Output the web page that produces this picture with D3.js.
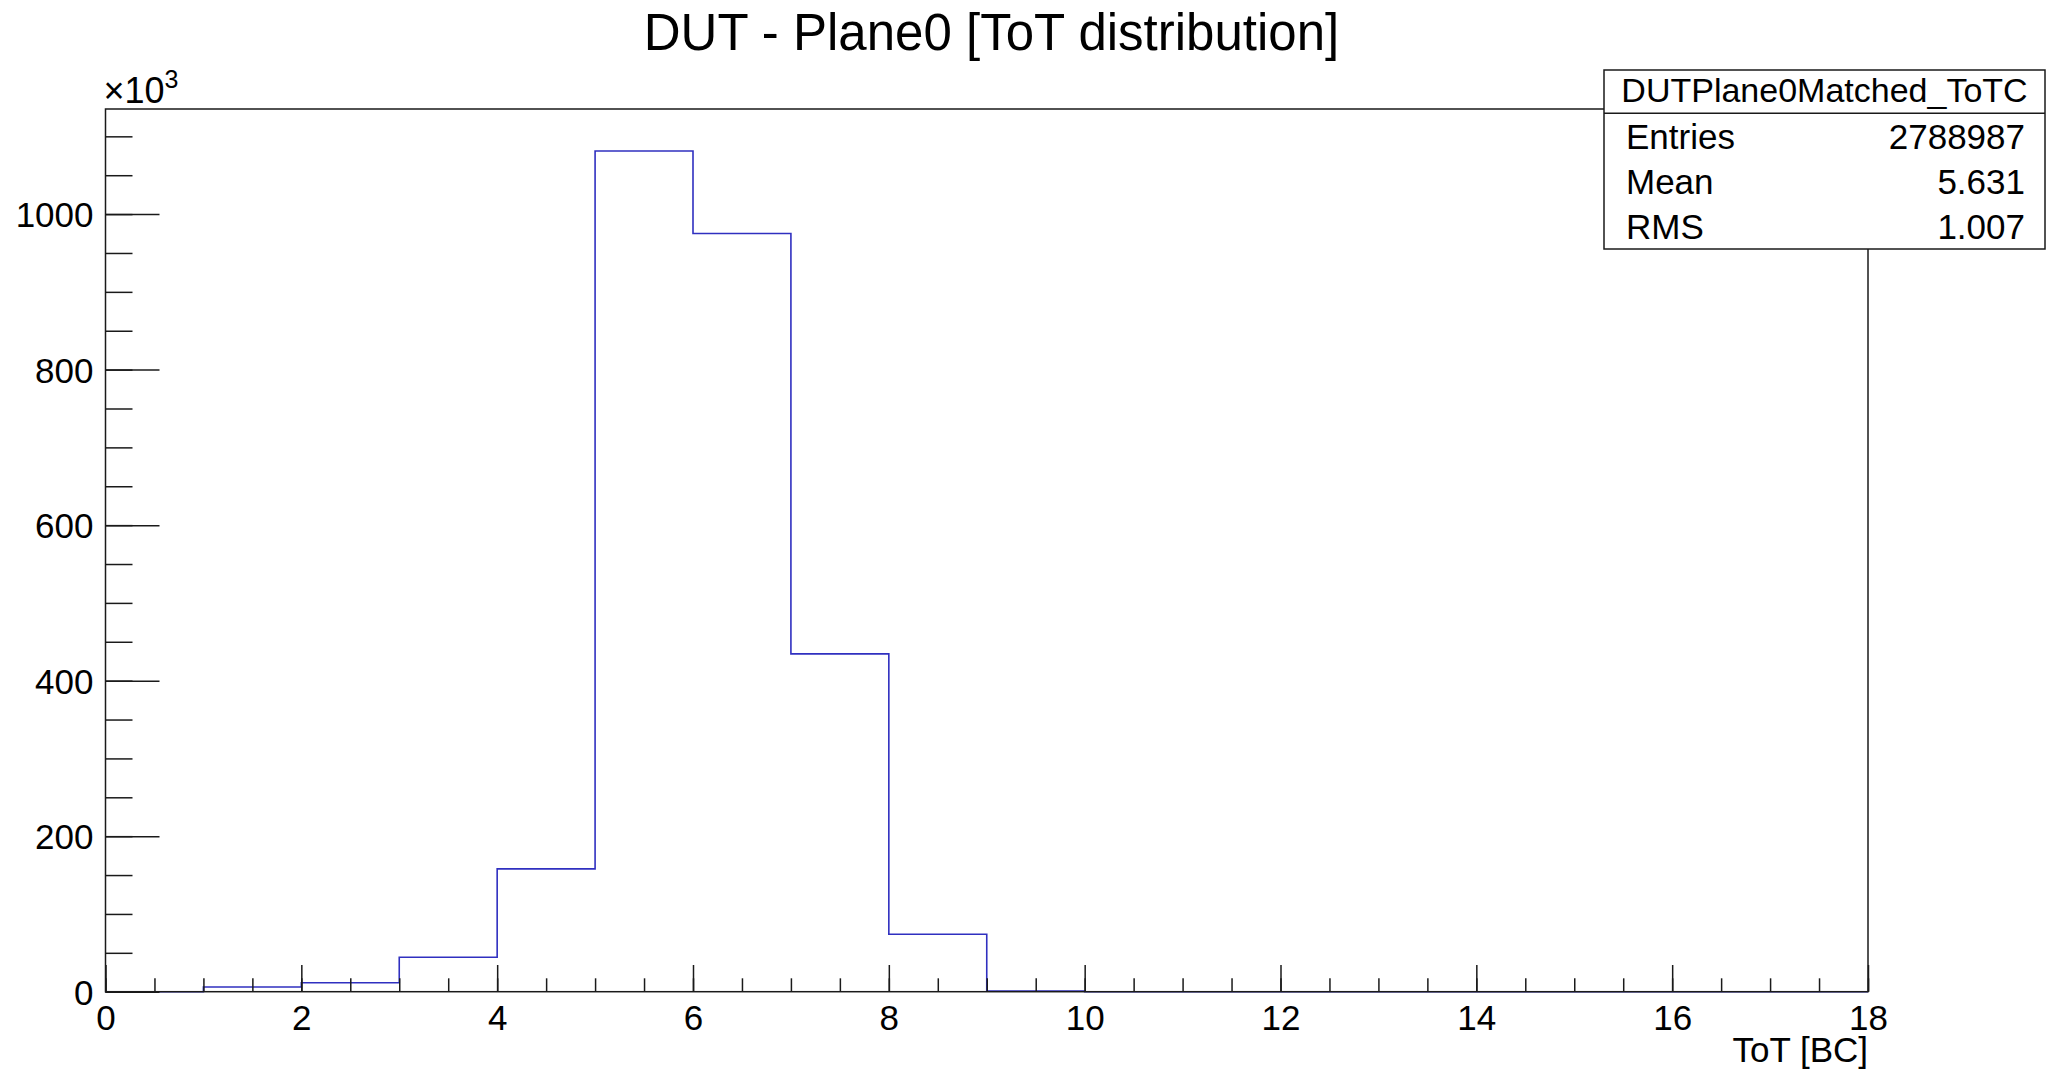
<!DOCTYPE html>
<html>
<head>
<meta charset="utf-8">
<script src="https://cdn.jsdelivr.net/npm/d3@7"></script>
<style>
  html, body { margin: 0; padding: 0; background: #fff; }
  svg text { font-family: "Liberation Sans", Arial, Helvetica, sans-serif; fill: #000; }
</style>
</head>
<body>
<div id="chart"></div>
<script>
// histogram bins (lower edge of each 1 BC bin) and their contents
const binLow = [0, 1, 2, 3, 4, 5, 6, 7, 8, 9, 10, 11, 12, 13, 14, 15, 16, 17];
const binCounts = [0, 6050, 11600, 44300, 158000, 1081100, 975100, 434400, 73900, 800, 0, 0, 0, 0, 0, 0, 0, 0];

const xMajorTicks = [0, 2, 4, 6, 8, 10, 12, 14, 16, 18];
const yMajorTicks = [0, 200000, 400000, 600000, 800000, 1000000];

const titleText = "DUT - Plane0 [ToT distribution]";
const xTitle = "ToT [BC]";
const statsName = "DUTPlane0Matched_ToTC";
const statsLabels = ["Entries", "Mean", "RMS"];
const statsValues = ["2788987", "5.631", "1.007"];

const W = 2050, H = 1072;
const frame = { left: 105.5, right: 1868, top: 109, bottom: 991.7 };
const lineCol = "#1a1a1a";

const svg = d3.select("#chart").append("svg")
  .attr("width", W).attr("height", H);

const x = d3.scaleLinear().domain([0, 18]).range([frame.left, frame.right]);
const yMax = d3.max(binCounts) * 1.05;
const y = d3.scaleLinear().domain([0, yMax]).range([frame.bottom, frame.top]);

// histogram outline (step)
const pts = [];
binLow.forEach((lo, i) => {
  pts.push([lo, binCounts[i]]);
  pts.push([lo + 1, binCounts[i]]);
});
svg.append("path")
  .datum(pts)
  .attr("fill", "none")
  .attr("stroke", "#3030c0")
  .attr("stroke-width", 1.6)
  .attr("d", d3.line().x(d => x(d[0])).y(d => y(d[1])));

// x axis: minor ticks every 0.5, major every 2
const xMinor = d3.range(0, 18.01, 0.5);
const gxMinor = svg.append("g")
  .attr("transform", `translate(0,${frame.bottom})`)
  .call(d3.axisBottom(x).tickValues(xMinor).tickSize(-13.4).tickFormat(""));
const gx = svg.append("g")
  .attr("transform", `translate(0,${frame.bottom})`)
  .call(d3.axisBottom(x).tickValues(xMajorTicks).tickSize(-26.7).tickPadding(13).tickFormat(d3.format("d")));

// y axis: minor every 50k, major every 200k
const yMinor = d3.range(0, yMax, 50000);
const gyMinor = svg.append("g")
  .attr("transform", `translate(${frame.left},0)`)
  .call(d3.axisLeft(y).tickValues(yMinor).tickSize(-27).tickFormat(""));
const gy = svg.append("g")
  .attr("transform", `translate(${frame.left},0)`)
  .call(d3.axisLeft(y).tickValues(yMajorTicks).tickSize(-54).tickPadding(12).tickFormat(d => d / 1000));

[gxMinor, gx, gyMinor, gy].forEach(g => {
  g.select(".domain").remove();
  g.selectAll("line").attr("stroke", lineCol).attr("stroke-width", 1.5);
  g.selectAll("text").style("font-size", "35px").attr("fill", "#000");
});
gy.selectAll("text").attr("dy", "0.36em");

// frame
svg.append("rect")
  .attr("x", frame.left).attr("y", frame.top)
  .attr("width", frame.right - frame.left)
  .attr("height", frame.bottom - frame.top)
  .attr("fill", "none")
  .attr("stroke", lineCol)
  .attr("stroke-width", 1.5);

// x10^3 multiplier
const mult = svg.append("text")
  .attr("x", frame.left - 2).attr("y", 103)
  .style("font-size", "36px");
mult.append("tspan").text("\u00d710");
mult.append("tspan").attr("dy", -15).style("font-size", "25px").text("3");

// title
svg.append("text")
  .attr("x", 991.5).attr("y", 50)
  .attr("text-anchor", "middle")
  .style("font-size", "51px")
  .text(titleText);

// x axis title
svg.append("text")
  .attr("x", frame.right).attr("y", 1062)
  .attr("text-anchor", "end")
  .style("font-size", "35px")
  .text(xTitle);

// stats box
const box = { left: 1604, right: 2045, top: 70, head: 113.3, bottom: 249 };
const stats = svg.append("g");
stats.append("rect")
  .attr("x", box.left).attr("y", box.top)
  .attr("width", box.right - box.left).attr("height", box.bottom - box.top)
  .attr("fill", "#fff").attr("stroke", lineCol).attr("stroke-width", 1.5);
stats.append("line")
  .attr("x1", box.left).attr("x2", box.right)
  .attr("y1", box.head).attr("y2", box.head)
  .attr("stroke", lineCol).attr("stroke-width", 1.5);
stats.append("text")
  .attr("x", (box.left + box.right) / 2).attr("y", 102)
  .attr("text-anchor", "middle")
  .style("font-size", "34px")
  .text(statsName);

const rowH = (box.bottom - box.head) / statsLabels.length;
statsLabels.forEach((lab, i) => {
  const base = box.head + rowH * (i + 0.5) + 13;
  stats.append("text")
    .attr("x", 1626).attr("y", base)
    .style("font-size", "35px")
    .text(lab);
  stats.append("text")
    .attr("x", 2025).attr("y", base)
    .attr("text-anchor", "end")
    .style("font-size", "35px")
    .text(statsValues[i]);
});
</script>
</body>
</html>
